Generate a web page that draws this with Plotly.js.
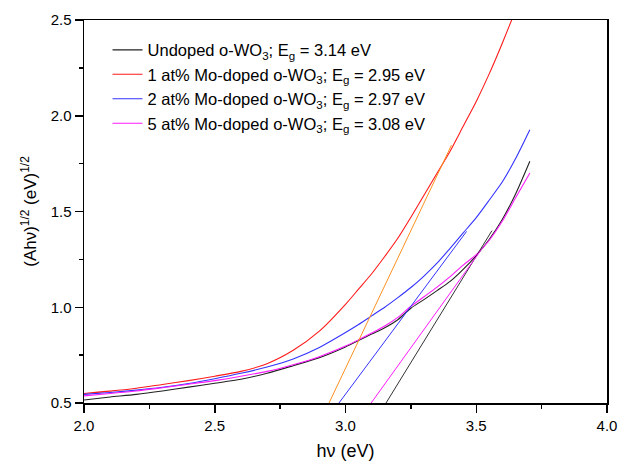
<!DOCTYPE html>
<html>
<head>
<meta charset="utf-8">
<script src="https://cdn.plot.ly/plotly-3.0.1.min.js"></script>
<style>html,body{margin:0;padding:0;background:#fff;}#chart{width:619px;height:462px;}</style>
</head>
<body>
<div id="chart"></div>
<script>
// photon energy (eV)
var energy = [2.0, 2.1, 2.2, 2.3, 2.4, 2.5, 2.6, 2.7, 2.8, 2.9, 3.0, 3.05, 3.1, 3.15, 3.2, 3.25, 3.3, 3.35, 3.4, 3.45, 3.5, 3.55, 3.6, 3.65, 3.705];
// (Ahv)^1/2 values
var undoped = [0.516, 0.531, 0.545, 0.563, 0.583, 0.603, 0.624, 0.655, 0.695, 0.737, 0.793, 0.826, 0.860, 0.893, 0.935, 0.995, 1.040, 1.087, 1.135, 1.198, 1.270, 1.355, 1.460, 1.590, 1.762];
var mo1 = [0.550, 0.562, 0.577, 0.597, 0.617, 0.640, 0.665, 0.705, 0.775, 0.875, 1.015, 1.095, 1.175, 1.265, 1.360, 1.470, 1.585, 1.700, 1.815, 1.945, 2.075, 2.220, 2.380, 2.550, 2.730];
var mo2 = [0.545, 0.555, 0.567, 0.582, 0.602, 0.627, 0.655, 0.688, 0.730, 0.790, 0.868, 0.910, 0.955, 1.000, 1.050, 1.103, 1.163, 1.230, 1.308, 1.388, 1.468, 1.560, 1.655, 1.775, 1.927];
var mo5 = [0.537, 0.550, 0.563, 0.580, 0.598, 0.617, 0.640, 0.665, 0.700, 0.742, 0.797, 0.830, 0.865, 0.902, 0.947, 1.005, 1.055, 1.105, 1.160, 1.220, 1.275, 1.350, 1.450, 1.570, 1.701];
// linear-fit (Tauc) lines: [start, end]
var fitUndopedX = [3.155, 3.56], fitUndopedY = [0.5, 1.40];
var fit1X = [2.937, 3.405], fit1Y = [0.5, 1.846];
var fit2X = [2.975, 3.463], fit2Y = [0.5, 1.396];
var fit5X = [3.098, 3.515], fit5Y = [0.5, 1.292];
var names = [
  'Undoped o-WO<sub>3</sub>; E<sub>g</sub> = 3.14 eV',
  '1 at% Mo-doped o-WO<sub>3</sub>; E<sub>g</sub> = 2.95 eV',
  '2 at% Mo-doped o-WO<sub>3</sub>; E<sub>g</sub> = 2.97 eV',
  '5 at% Mo-doped o-WO<sub>3</sub>; E<sub>g</sub> = 3.08 eV'
];
var colors = ['#222222', '#ff1a1a', '#3333ff', '#ff1aff'];
var fitColors = ['#333333', '#ff9020', '#3333ff', '#ff1aff'];
var xTicks = [2.0, 2.5, 3.0, 3.5, 4.0];
var yTicks = [0.5, 1.0, 1.5, 2.0, 2.5];

function curve(y, name, color) {
  return {x: energy, y: y, name: name, mode: 'lines', type: 'scatter',
          line: {color: color, width: 1.1, shape: 'spline', smoothing: 0.7}};
}
function fit(x, y, color) {
  return {x: x, y: y, mode: 'lines', type: 'scatter', showlegend: false,
          line: {color: color, width: 1}};
}
var data = [
  curve(undoped, names[0], colors[0]),
  curve(mo1, names[1], colors[1]),
  curve(mo2, names[2], colors[2]),
  curve(mo5, names[3], colors[3]),
  fit(fitUndopedX, fitUndopedY, fitColors[0]),
  fit(fit1X, fit1Y, fitColors[1]),
  fit(fit2X, fit2Y, fitColors[2]),
  fit(fit5X, fit5Y, fitColors[3])
];
var ff = 'Liberation Sans, Arial, sans-serif';
var layout = {
  width: 619, height: 462,
  margin: {l: 84, r: 12, t: 20, b: 59, pad: 0},
  paper_bgcolor: '#fff', plot_bgcolor: '#fff',
  font: {family: ff, size: 15, color: '#000'},
  showlegend: true,
  legend: {x: 0.045, y: 0.967, xanchor: 'left', yanchor: 'top', bgcolor: 'rgba(0,0,0,0)',
           font: {family: ff, size: 16.5, color: '#000'}, tracegroupgap: 0},
  xaxis: {range: [2.0, 4.0], tickvals: xTicks, ticktext: xTicks.map(function(v){return v.toFixed(1);}),
          ticks: 'outside', ticklen: 8, tickwidth: 1.5, tickcolor: '#000',
          minor: {ticks: 'outside', ticklen: 4, dtick: 0.25, tick0: 2.0, tickcolor: '#000', tickwidth: 1.5},
          showline: true, linecolor: '#000', linewidth: 1.5, mirror: true,
          showgrid: false, zeroline: false, tickfont: {family: ff, size: 15, color: '#000'},
          title: {text: 'h\u03bd (eV)', font: {family: ff, size: 18, color: '#000'}, standoff: 12}},
  yaxis: {range: [0.5, 2.5], tickvals: yTicks, ticktext: yTicks.map(function(v){return v.toFixed(1);}),
          ticks: 'outside', ticklen: 8, tickwidth: 1.5, tickcolor: '#000',
          minor: {ticks: 'outside', ticklen: 4, dtick: 0.25, tick0: 0.5, tickcolor: '#000', tickwidth: 1.5},
          showline: true, linecolor: '#000', linewidth: 1.5, mirror: true,
          showgrid: false, zeroline: false, tickfont: {family: ff, size: 15, color: '#000'},
          title: {text: '(Ah\u03bd)<sup>1/2</sup> (eV)<sup>1/2</sup>', font: {family: ff, size: 17, color: '#000'}, standoff: 9}}
};
Plotly.newPlot('chart', data, layout, {displayModeBar: false, staticPlot: true});
</script>
</body>
</html>
